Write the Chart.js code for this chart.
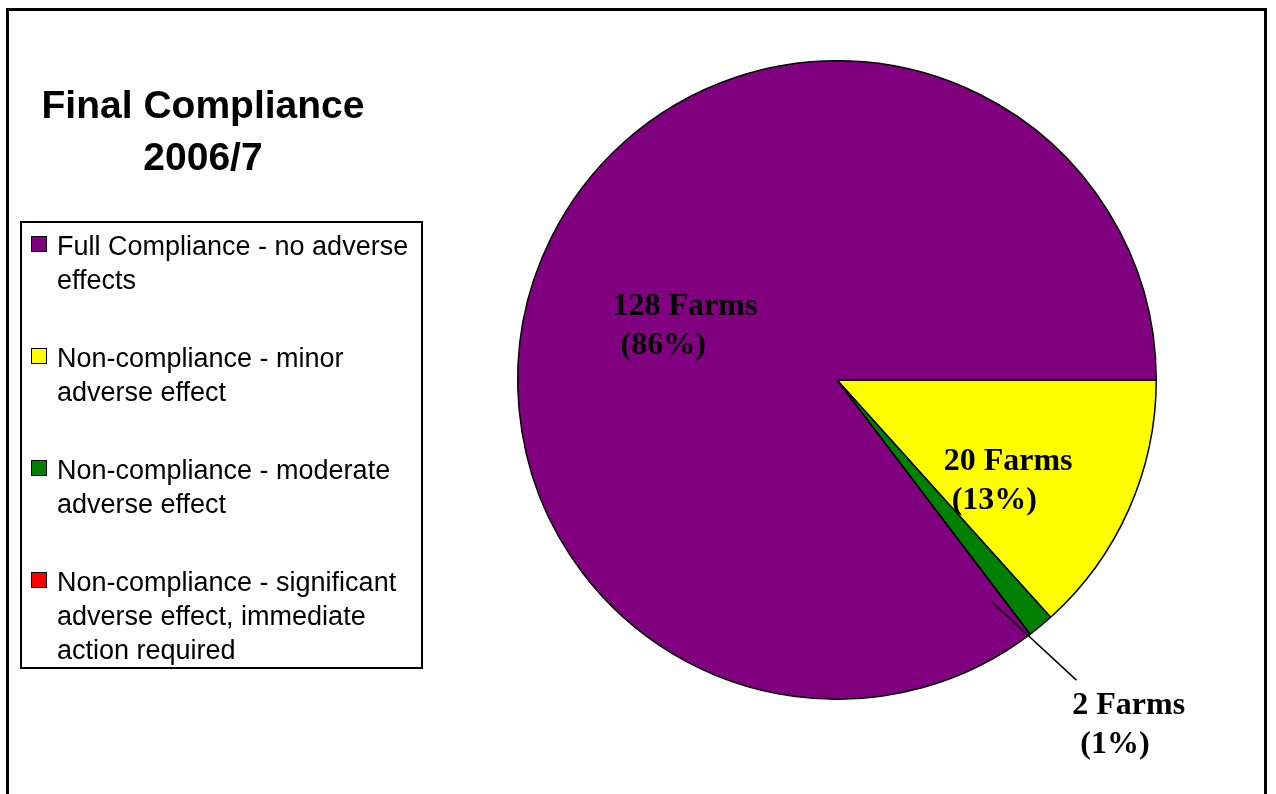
<!DOCTYPE html>
<html>
<head>
<meta charset="utf-8">
<script src="https://cdn.jsdelivr.net/npm/chart.js@4.4.0/dist/chart.umd.min.js"></script>
<style>
    html, body { margin: 0; padding: 0; background: #fff; }
    body { width: 1276px; height: 794px; position: relative; overflow: hidden; }
    #frame {
        position: absolute; left: 6px; top: 8px; width: 1261px; height: 800px;
        border: 3px solid #000; box-sizing: border-box;
    }
    #chart { position: absolute; left: 0; top: 0; }
    #title {
        position: absolute; left: 0px; top: 79px; width: 406px;
        text-align: center; font: bold 39px "Liberation Sans", Arial, sans-serif;
        line-height: 52px; color: #000;
    }
    #legend {
        position: absolute; left: 20px; top: 221px; width: 403px; height: 448px;
        border: 2px solid #000; box-sizing: border-box;
        font: 27px "Liberation Sans", Arial, sans-serif; line-height: 34px; color: #000;
    }
    .item { position: absolute; left: 35px; width: 362px; }
    .box {
        position: absolute; left: -26px; top: 7px; width: 14px; height: 14px;
        border: 1px solid #000;
    }
</style>
</head>
<body>
<div id="frame"></div>
<canvas id="chart" width="1276" height="794"></canvas>
<div id="title">Final Compliance<br>2006/7</div>
<div id="legend"></div>

<script>
    // Категории и значения (ферм)
    const categories = [
        'Non-compliance - minor adverse effect',
        'Non-compliance - moderate adverse effect',
        'Non-compliance - significant adverse effect, immediate action required',
        'Full Compliance - no adverse effects'
    ];
    const farms = [20, 2, 0, 128];
    const percents = [13, 1, 0, 86];
    const colors = ['#FFFF00', '#008000', '#FF0000', '#800080'];

    // Порядок в легенде
    const legendOrder = [3, 0, 1, 2];
    const legendLabels = [
        'Full Compliance - no adverse effects',
        'Non-compliance - minor adverse effect',
        'Non-compliance - moderate adverse effect',
        'Non-compliance - significant adverse effect, immediate action required'
    ];

    // Легенда
    const legend = document.getElementById('legend');
    legendOrder.forEach((idx, i) => {
        const div = document.createElement('div');
        div.className = 'item';
        div.style.top = (6 + i * 112) + 'px';
        div.innerHTML = `<span class="box" style="background:${colors[idx]}"></span>${legendLabels[i]}`;
        legend.appendChild(div);
    });

    // Подписи секторов: смещения относительно центра (в радиусах)
    const labelSpots = {
        3: { dx: -0.703, dy: -0.203, leader: null },
        0: { dx: 0.334, dy: 0.281, leader: null },
        1: { dx: 0.737, dy: 1.047, leader: [0.487, 0.697, 0.75, 0.94] }
    };

    const labelsPlugin = {
        id: 'farmLabels',
        afterDatasetsDraw(chart) {
            const ctx = chart.ctx;
            const arc = chart.getDatasetMeta(0).data[0];
            const cx = arc.x, cy = arc.y, r = arc.outerRadius;
            ctx.save();
            ctx.fillStyle = '#000';
            ctx.strokeStyle = '#000';
            ctx.lineWidth = 1.5;
            ctx.font = 'bold 32px "Liberation Serif", "Times New Roman", serif';
            ctx.textBaseline = 'alphabetic';
            ctx.textAlign = 'left';
            Object.keys(labelSpots).forEach(k => {
                const s = labelSpots[k];
                if (s.leader) {
                    ctx.beginPath();
                    ctx.moveTo(cx + s.leader[0] * r, cy + s.leader[1] * r);
                    ctx.lineTo(cx + s.leader[2] * r, cy + s.leader[3] * r);
                    ctx.stroke();
                }
                const x = cx + s.dx * r;
                const y = cy + s.dy * r;
                const lines = [farms[k] + ' Farms', ' (' + percents[k] + '%)'];
                lines.forEach((t, li) => ctx.fillText(t, x, y + li * 39));
            });
            ctx.restore();
        }
    };

    const ctx = document.getElementById('chart').getContext('2d');
    new Chart(ctx, {
        type: 'pie',
        data: {
            labels: categories,
            datasets: [{
                data: farms,
                backgroundColor: colors,
                borderColor: '#000',
                borderWidth: 1.5
            }]
        },
        options: {
            responsive: false,
            animation: false,
            rotation: 90,
            layout: { padding: { left: 517, top: 60, right: 119, bottom: 94 } },
            plugins: {
                legend: { display: false },
                tooltip: { enabled: false }
            }
        },
        plugins: [labelsPlugin]
    });
</script>
</body>
</html>
